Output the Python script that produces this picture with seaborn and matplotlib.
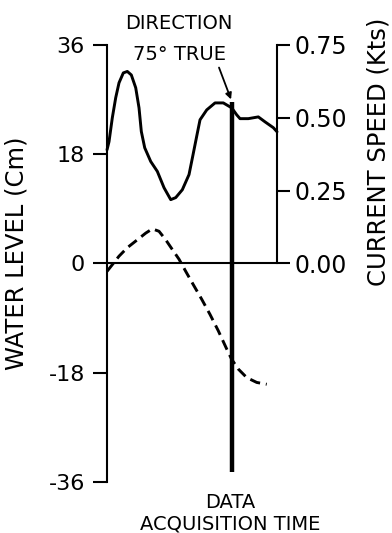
import numpy as np
import pandas as pd
import matplotlib
matplotlib.use("Agg")
import matplotlib.pyplot as plt
import seaborn as sns

# time axis (arbitrary units, left spine = 0, right spine = 17)
speed_t = [0.0, 0.2, 0.53, 0.87, 1.2, 1.63, 2.03, 2.43, 2.87, 3.2, 3.43, 3.77,
           4.37, 5.03, 5.7, 6.37, 6.87, 7.53, 8.2, 8.6, 9.0, 9.3, 9.97, 10.8,
           11.63, 12.47, 12.97, 13.3, 14.13, 15.13, 15.8, 16.63, 17.0]
speed_kts = [0.390, 0.418, 0.500, 0.569, 0.620, 0.654, 0.659, 0.647, 0.603,
             0.534, 0.453, 0.397, 0.350, 0.316, 0.260, 0.219, 0.226, 0.253,
             0.305, 0.373, 0.442, 0.493, 0.527, 0.551, 0.551, 0.534, 0.510,
             0.497, 0.497, 0.503, 0.486, 0.466, 0.452]

level_t = [0.0, 1.2, 2.03, 3.03, 3.87, 4.53, 5.2, 5.87, 6.53, 7.2, 7.87, 8.63,
           9.47, 10.3, 11.13, 11.97, 12.47, 13.13, 13.97, 14.97, 15.97]
level_cm = [-1.3, 1.2, 2.6, 3.9, 5.0, 5.7, 5.3, 3.9, 2.3, 0.7, -1.3, -3.5,
            -5.9, -8.4, -11.1, -14.1, -15.8, -17.4, -18.8, -19.6, -19.9]

acq_time = 12.5
acq_top, acq_bottom = 26.6, -34.4

left_ticks = [-36, -18, 0, 18, 36]
right_ticks = [0.00, 0.25, 0.50, 0.75]

sns.set_style("white", {'axes.edgecolor': 'black', 'text.color': 'black',
                        'xtick.color': 'black', 'ytick.color': 'black'})
plt.rcParams['font.family'] = ['DejaVu Sans']

fig = plt.figure(figsize=(3.92, 5.33), dpi=100)
ax = fig.add_axes([0.273, 0.0957, 0.4337, 0.82])
ax2 = ax.twinx()

df_level = pd.DataFrame({'t': level_t, 'cm': level_cm})
df_speed = pd.DataFrame({'t': speed_t, 'kts': speed_kts})

sns.lineplot(data=df_level, x='t', y='cm', ax=ax, color='black', linewidth=2.1,
             linestyle=(0, (3.6, 2.0)), sort=False, clip_on=False)
sns.lineplot(data=df_speed, x='t', y='kts', ax=ax2, color='black', linewidth=2.1,
             sort=False, clip_on=False, solid_joinstyle='round')

ax.axhline(0, color='black', linewidth=1.5)
ax.plot([acq_time, acq_time], [acq_bottom, acq_top], color='black', linewidth=3.2,
        solid_capstyle='butt')

ax.annotate('', xy=(acq_time, acq_top), xytext=(11.1, 32.7),
            arrowprops=dict(arrowstyle='-|>', color='black', lw=1.3, mutation_scale=9))

ax.set_xlim(0, 17)
ax.set_ylim(-36, 36)
ax2.set_ylim(-0.75, 0.75)

for a in (ax, ax2):
    for s in ('top', 'bottom'):
        a.spines[s].set_visible(False)
    a.set_xlabel('')
    a.set_ylabel('')
    a.set_xticks([])
ax.spines['right'].set_visible(False)
ax2.spines['left'].set_visible(False)
ax.spines['left'].set_linewidth(1.5)
ax2.spines['right'].set_linewidth(1.5)
ax2.spines['right'].set_bounds(0, 0.75)

ax.set_yticks(left_ticks)
ax.set_yticklabels([str(v) for v in left_ticks])
ax.tick_params(axis='y', direction='out', length=10, width=1.5, pad=6,
               labelsize=16, colors='black')
ax2.set_yticks(right_ticks)
ax2.set_yticklabels([f"{v:.2f}" for v in right_ticks])
ax2.tick_params(axis='y', direction='out', length=9, width=1.5, pad=3.5,
                labelsize=17, colors='black')

fig.text(0.042, 0.525, 'WATER LEVEL (Cm)', rotation=90, ha='center', va='center',
         fontsize=17.5, color='black')
fig.text(0.965, 0.715, 'CURRENT SPEED (Kts)', rotation=90, ha='center', va='center',
         fontsize=17.5, color='black')
fig.text(0.455, 0.955, 'DIRECTION', ha='center', va='center', fontsize=14, color='black')
fig.text(0.459, 0.897, '75° TRUE', ha='center', va='center', fontsize=14, color='black')
fig.text(0.587, 0.058, 'DATA', ha='center', va='center', fontsize=14, color='black')
fig.text(0.587, 0.017, 'ACQUISITION TIME', ha='center', va='center', fontsize=14,
         color='black')

fig.savefig('out.png', dpi=100)
